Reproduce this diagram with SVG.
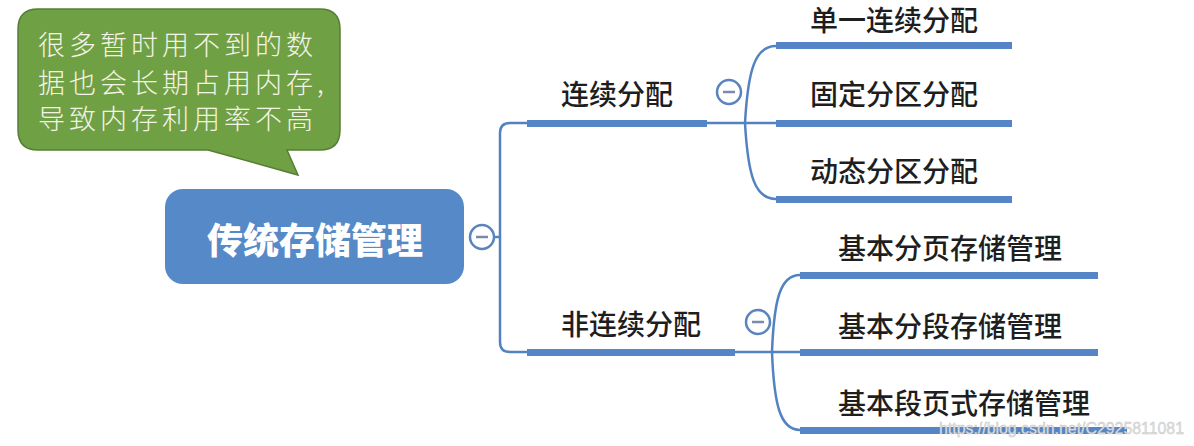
<svg xmlns="http://www.w3.org/2000/svg" width="1194" height="446" viewBox="0 0 1194 446">
<style>
.bar{fill:#5585c6}
.thin{fill:none;stroke:#5382c2;stroke-width:2.5}
.lbl{font-family:"Noto Sans CJK SC","Noto Sans",sans-serif;font-size:28px;font-weight:500;fill:#1e1e1e}
.tog circle{fill:#fff;stroke:#5a84bd;stroke-width:2.5}
.tog line{stroke:#7a8aa8;stroke-width:2.5}
.note{font-family:"Noto Sans CJK SC",sans-serif;font-size:27px;font-weight:300;fill:#f4f4e6;letter-spacing:4px}
</style>
<g id="connectors">
<path class="thin" d="M493,237 H500 M527,123 H510 Q500,123 500,133 V342 Q500,352 510,352 H527"/>
<path class="thin" d="M707,123 H776 M776,46 C755,46 748,70 745,123 C748,176 755,199 776,199"/>
<path class="thin" d="M735,352 H800 M800,275 C780,275 774,300 772,352 C774,404 780,430 800,430"/>
</g>
<g id="callout">
<path d="M38,9 H320 Q340,9 340,29 V130 Q340,150 320,150 H287 L298,175 L208,150 H38 Q18,150 18,130 V29 Q18,9 38,9 Z" fill="#70a044" stroke="#557d34" stroke-width="1.5"/>
<text class="note" x="38" y="55">很多暂时用不到的数</text>
<text class="note" x="38" y="93">据也会长期占用内存,</text>
<text class="note" x="38" y="129">导致内存利用率不高</text>
</g>
<g id="root">
<rect x="165" y="189" width="299" height="95" rx="18" fill="#5689c8"/>
<text x="315" y="254" text-anchor="middle" font-family="Noto Sans CJK SC,sans-serif" font-size="36" font-weight="900" fill="#fff">传统存储管理</text>
<g class="tog"><circle cx="482" cy="237" r="12"/><line x1="476" y1="237" x2="488" y2="237"/></g>
</g>
<g id="n-lianxu">
<rect class="bar" x="527" y="120" width="180" height="7"/>
<text class="lbl" x="617" y="105" text-anchor="middle">连续分配</text>
<g class="tog"><circle cx="729" cy="92" r="12"/><line x1="723" y1="92" x2="735" y2="92"/></g>
</g>
<g id="n-danyi">
<rect class="bar" x="776" y="42" width="236" height="7"/>
<text class="lbl" x="810" y="31">单一连续分配</text>
</g>
<g id="n-guding">
<rect class="bar" x="776" y="120" width="236" height="7"/>
<text class="lbl" x="810" y="105">固定分区分配</text>
</g>
<g id="n-dongtai">
<rect class="bar" x="776" y="196" width="236" height="7"/>
<text class="lbl" x="810" y="182">动态分区分配</text>
</g>
<g id="n-feilianxu">
<rect class="bar" x="527" y="349" width="208" height="7"/>
<text class="lbl" x="631" y="335" text-anchor="middle">非连续分配</text>
<g class="tog"><circle cx="758" cy="322" r="12"/><line x1="752" y1="322" x2="764" y2="322"/></g>
</g>
<g id="n-fenye">
<rect class="bar" x="800" y="272" width="298" height="7"/>
<text class="lbl" x="838" y="259">基本分页存储管理</text>
</g>
<g id="n-fenduan">
<rect class="bar" x="800" y="349" width="298" height="7"/>
<text class="lbl" x="838" y="337">基本分段存储管理</text>
</g>
<g id="n-duanye">
<rect class="bar" x="800" y="427" width="327" height="7"/>
<text class="lbl" x="838" y="414">基本段页式存储管理</text>
</g>
<text x="939" y="434" font-family="Liberation Sans,sans-serif" font-size="16" textLength="245" lengthAdjust="spacingAndGlyphs" fill="#e2e2e2" stroke="#c4c4c4" stroke-width="0.4">https://blog.csdn.net/C2925811081</text>
</svg>
